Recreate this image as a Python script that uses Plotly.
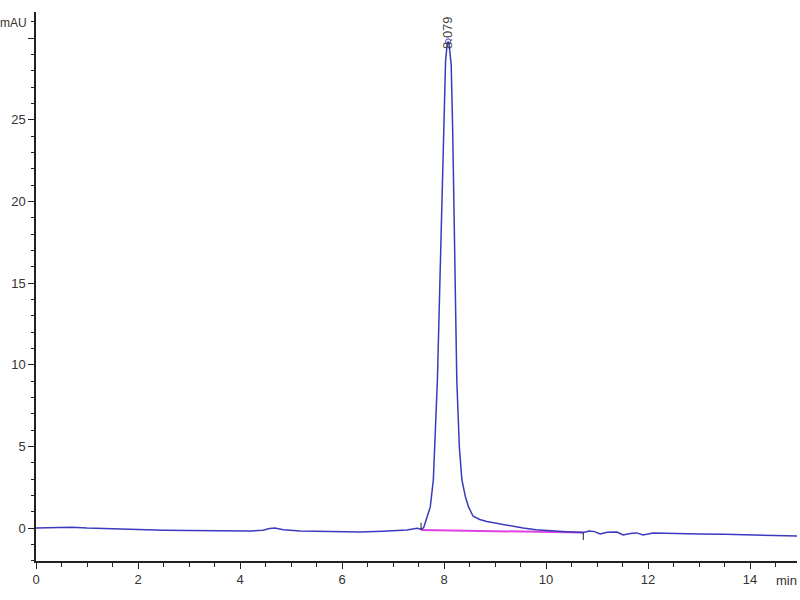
import plotly.graph_objects as go

# Chromatogram signal (time in min, absorbance in mAU)
time_min = [0.00, 0.25, 0.47, 0.70, 1.00, 1.50, 2.04, 2.50, 3.00, 3.50, 3.86, 4.20, 4.45, 4.58, 4.68,
            4.85, 5.18, 5.60, 6.00, 6.35, 6.80, 7.27, 7.47, 7.55, 7.60, 7.63, 7.67, 7.73, 7.79, 7.82,
            7.87, 7.92, 7.99, 8.03, 8.06, 8.079, 8.10, 8.14, 8.17, 8.22, 8.25, 8.30, 8.35, 8.42, 8.48,
            8.57, 8.70, 8.84, 9.04, 9.29, 9.55, 9.80, 10.10, 10.40, 10.73, 10.85, 10.95, 11.06, 11.20,
            11.39, 11.51, 11.65, 11.78, 11.90, 12.10, 12.50, 13.00, 13.50, 14.00, 14.50, 14.95]
signal_mau = [0.00, 0.02, 0.07, 0.05, 0.00, -0.05, -0.12, -0.13, -0.15, -0.17, -0.18, -0.18, -0.14, -0.03, 0.00,
              -0.10, -0.18, -0.20, -0.22, -0.25, -0.20, -0.12, -0.02, -0.08, 0.02, 0.30, 0.67, 1.29, 2.94, 4.96,
              9.07, 15.2, 24.3, 28.6, 29.6, 29.8, 29.6, 28.4, 24.3, 15.2, 9.07, 4.96, 2.94, 1.90, 1.29,
              0.72, 0.52, 0.40, 0.28, 0.12, 0.00, -0.10, -0.18, -0.23, -0.28, -0.18, -0.22, -0.37, -0.26,
              -0.25, -0.43, -0.33, -0.30, -0.43, -0.31, -0.35, -0.37, -0.38, -0.43, -0.46, -0.49]

# Integration baseline of the peak
baseline_time = [7.55, 10.73]
baseline_mau = [-0.12, -0.28]

peak_rt = 8.079
peak_height = 29.8
peak_label = "8.079"

y_tickvals = [0, 5, 10, 15, 20, 25, 30]
y_ticktext = ["0", "5", "10", "15", "20", "25", ""]
x_tickvals = [0, 2, 4, 6, 8, 10, 12, 14]

fig = go.Figure()
fig.add_trace(go.Scatter(x=baseline_time, y=baseline_mau, mode="lines",
                         line=dict(color="#e040e0", width=2), hoverinfo="skip"))
fig.add_trace(go.Scatter(x=time_min, y=signal_mau, mode="lines",
                         line=dict(color="#3a3abf", width=1.5)))
# integration start / end markers
fig.add_trace(go.Scatter(x=[baseline_time[0], baseline_time[0]],
                         y=[baseline_mau[0], baseline_mau[0] + 0.45],
                         mode="lines", line=dict(color="#222", width=1)))
fig.add_trace(go.Scatter(x=[baseline_time[1], baseline_time[1]],
                         y=[baseline_mau[1], baseline_mau[1] - 0.45],
                         mode="lines", line=dict(color="#222", width=1)))
# apex marker
fig.add_trace(go.Scatter(x=[peak_rt], y=[peak_height], mode="markers",
                         marker=dict(symbol="circle-open", size=5, color="#3a3abf", line=dict(width=1))))

fig.add_annotation(x=peak_rt, y=peak_height, text=peak_label, textangle=-90, showarrow=False,
                   yanchor="bottom", xanchor="center", yshift=-10,
                   font=dict(size=13, color="#444"))
fig.add_annotation(xref="paper", x=0, xshift=-7, xanchor="right", yref="y", y=30.9,
                   text="mAU", showarrow=False, font=dict(size=12, color="#333"))
fig.add_annotation(xref="paper", x=1, xshift=2, xanchor="right", yref="paper", y=0, yshift=-19,
                   yanchor="middle", text="min", showarrow=False, font=dict(size=13, color="#333"))

fig.update_layout(
    width=800, height=600,
    margin=dict(l=36, r=3, t=12, b=39, autoexpand=False),
    paper_bgcolor="white", plot_bgcolor="white",
    showlegend=False,
    font=dict(family="Liberation Sans, Arial, sans-serif", size=13, color="#333"),
    xaxis=dict(range=[0, 14.92], tickvals=x_tickvals, ticks="outside", ticklen=6, tickcolor="#222",
               showline=True, linecolor="#222", linewidth=1.5, showgrid=False, zeroline=False,
               automargin=False,
               minor=dict(dtick=0.5, tick0=0, ticks="outside", ticklen=4, tickcolor="#222")),
    yaxis=dict(range=[-2.02, 31.6], tickvals=y_tickvals, ticktext=y_ticktext, ticks="outside",
               ticklen=6, tickcolor="#222", showline=True, linecolor="#222", linewidth=1.5,
               showgrid=False, zeroline=False, automargin=False,
               minor=dict(dtick=1, tick0=0, ticks="outside", ticklen=3, tickcolor="#222")),
)

fig.write_html("out.html", config={"displayModeBar": False},
               post_script="document.body.style.margin='0';document.body.style.overflow='hidden';")
